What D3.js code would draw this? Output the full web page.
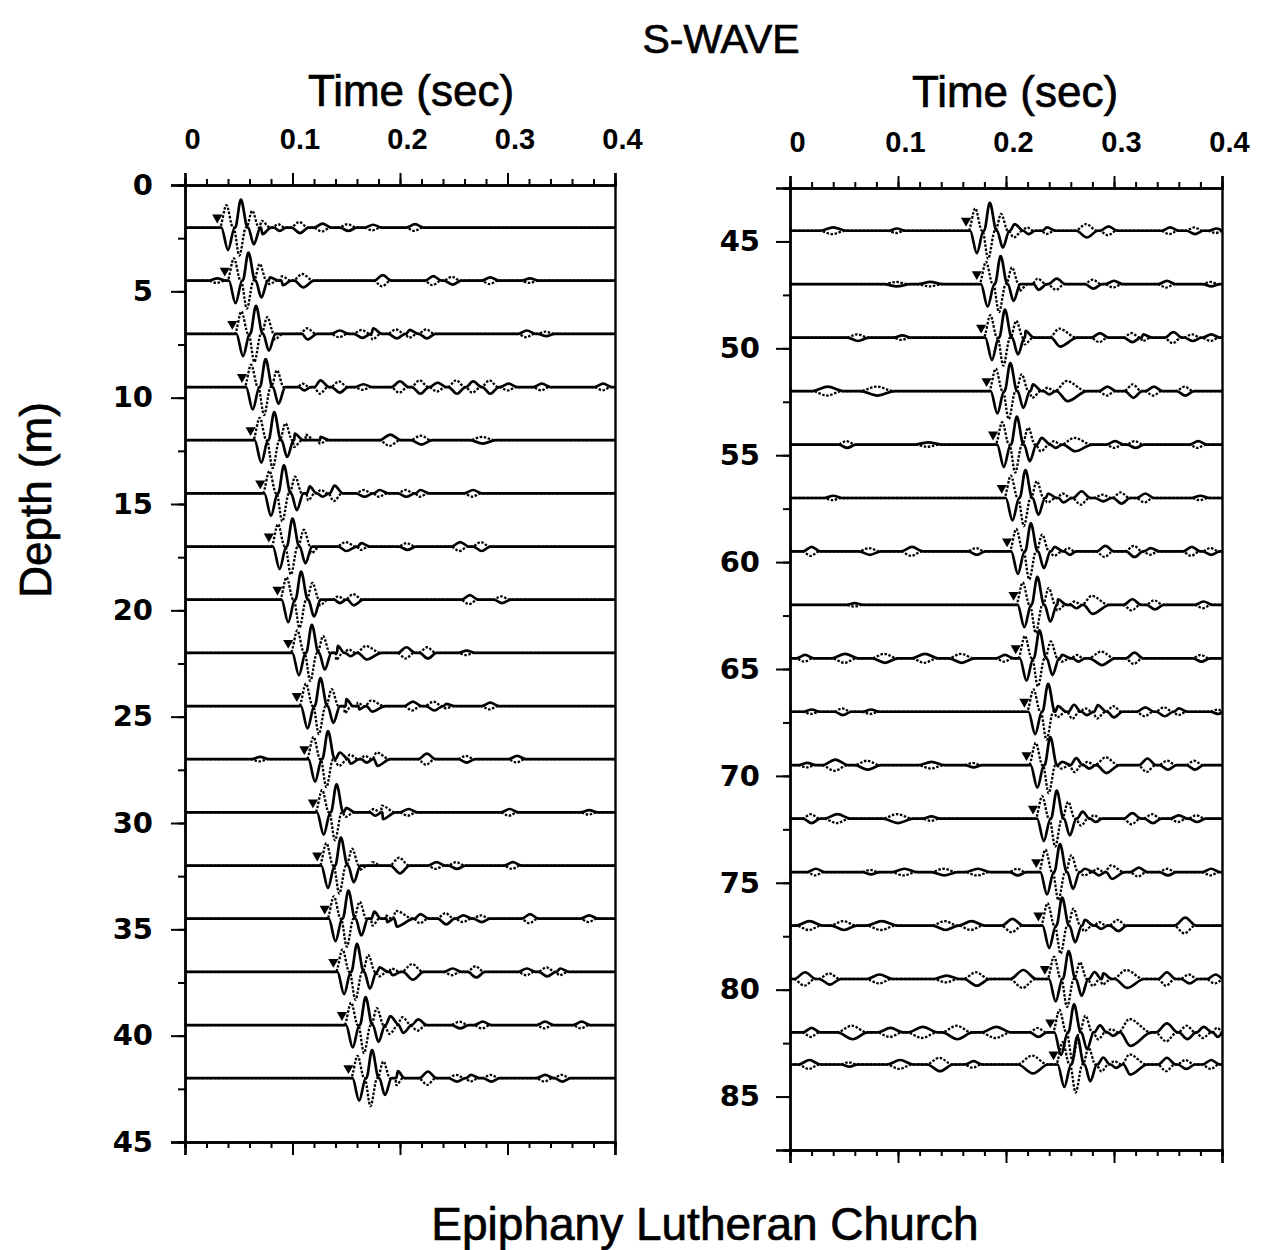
<!DOCTYPE html>
<html>
<head>
<meta charset="utf-8">
<title>S-Wave traces</title>
<script src="https://d3js.org/d3.v7.min.js"></script>
<style>
  body { margin: 0; background: #fff; }
  text { fill: #000; }
  .title { font-family: "Liberation Sans", Arial, sans-serif; stroke: #000; stroke-width: 0.7px; }
  .tlab { font-family: "Liberation Sans", Arial, sans-serif; font-weight: bold; font-size: 29px; }
  .dlab { font-family: "DejaVu Sans", sans-serif; font-weight: bold; font-size: 29px; }
</style>
</head>
<body>
<div id="chart"></div>
<script>
// receiver depths (m) and picked S arrival times (s), left panel
var leftDepths = [2, 4.5, 7, 9.5, 12, 14.5, 17, 19.5, 22, 24.5, 27, 29.5, 32, 34.5, 37, 39.5, 42];
var leftPicks = [0.030, 0.037, 0.044, 0.053, 0.061, 0.070, 0.078, 0.086, 0.096, 0.104, 0.111, 0.119, 0.123, 0.130, 0.138, 0.146, 0.152];

// right panel
var rightDepths = [44.5, 47, 49.5, 52, 54.5, 57, 59.5, 62, 64.5, 67, 69.5, 72, 74.5, 77, 79.5, 82, 83.5];
var rightPicks = [0.163, 0.173, 0.177, 0.182, 0.188, 0.196, 0.201, 0.207, 0.209, 0.217, 0.219, 0.225, 0.228, 0.230, 0.236, 0.241, 0.244];

// main shear wavelet, solid component: lobe delay after pick (s) and relative amplitude
var waveletDelay = [0.010, 0.022, 0.034, 0.046, 0.058];
var waveletAmp = [-0.8, 1.0, -0.6, 0.25, -0.12];

// smaller wiggles (noise before pick, coda after): [time s, amplitude, half width s]
var leftWiggles = [
  [[0.072, -0.24], [0.090, 0.22], [0.107, -0.2], [0.128, 0.14], [0.152, -0.12], [0.175, 0.1], [0.214, 0.12]],
  [[0.030, 0.08], [0.079, 0.12], [0.091, -0.16], [0.110, -0.24, 0.01], [0.184, 0.2], [0.231, 0.16], [0.249, -0.14], [0.284, 0.12], [0.321, 0.08]],
  [[0.084, 0.2], [0.094, -0.16], [0.114, -0.2, 0.009], [0.144, 0.12], [0.165, -0.14], [0.175, 0.2], [0.197, -0.16], [0.209, 0.14], [0.225, -0.16], [0.318, 0.12], [0.336, -0.08]],
  [[0.091, 0.16], [0.112, -0.16], [0.126, 0.24], [0.144, -0.2], [0.166, 0.1], [0.200, 0.2], [0.219, -0.24, 0.008], [0.235, 0.16], [0.253, -0.24, 0.008], [0.268, 0.2], [0.284, -0.24], [0.301, 0.12], [0.332, 0.12], [0.389, 0.12]],
  [[0.102, 0.24], [0.113, -0.2], [0.126, 0.12], [0.191, 0.2, 0.01], [0.220, -0.16, 0.01], [0.277, -0.12, 0.012]],
  [[0.105, 0.2], [0.139, 0.28, 0.008], [0.167, -0.12], [0.181, 0.12], [0.206, -0.12], [0.219, 0.12], [0.268, 0.12]],
  [[0.118, 0.24], [0.128, -0.2], [0.150, -0.16, 0.01], [0.164, 0.12], [0.207, -0.12], [0.256, 0.16], [0.276, -0.16]],
  [[0.126, 0.2], [0.157, -0.2, 0.009], [0.265, 0.16], [0.295, -0.12]],
  [[0.133, 0.16], [0.169, -0.24, 0.014], [0.206, 0.2], [0.226, -0.2], [0.262, 0.08]],
  [[0.141, 0.16], [0.153, -0.1], [0.174, -0.2, 0.012], [0.212, 0.16], [0.232, -0.16], [0.243, 0.08], [0.284, 0.12]],
  [[0.070, 0.08], [0.144, 0.24], [0.154, -0.16], [0.179, -0.24, 0.012], [0.225, 0.2], [0.262, -0.12], [0.309, 0.12]],
  [[0.150, 0.16], [0.157, -0.12], [0.184, -0.24, 0.012], [0.208, 0.12], [0.302, 0.12], [0.376, 0.08]],
  [[0.163, 0.16], [0.175, -0.12], [0.181, 0.16], [0.200, -0.28, 0.009], [0.234, 0.12], [0.253, -0.12], [0.305, 0.12]],
  [[0.165, 0.16], [0.179, 0.32], [0.197, -0.28, 0.016], [0.219, 0.16], [0.243, -0.2], [0.259, 0.12], [0.276, -0.12], [0.321, 0.16], [0.376, 0.12]],
  [[0.181, 0.16], [0.193, -0.12], [0.212, -0.28, 0.01], [0.249, 0.12], [0.271, -0.2], [0.318, 0.12], [0.337, -0.16], [0.349, 0.12]],
  [[0.191, 0.32], [0.203, -0.28], [0.217, 0.2], [0.256, -0.12], [0.277, 0.12], [0.335, 0.12], [0.369, 0.12]],
  [[0.188, 0.24], [0.203, -0.24], [0.226, 0.24, 0.008], [0.253, -0.12], [0.266, 0.12], [0.285, -0.12], [0.335, 0.12], [0.351, -0.12]]
];

var rightWiggles = [
  [[0.040, 0.12, 0.012], [0.099, 0.08], [0.208, 0.24], [0.225, -0.16], [0.238, 0.12], [0.275, -0.24, 0.01], [0.295, 0.16], [0.352, 0.12], [0.375, -0.12], [0.395, 0.08]],
  [[0.099, -0.08, 0.012], [0.130, 0.08, 0.012], [0.213, 0.24], [0.230, -0.2], [0.247, 0.2], [0.281, -0.16], [0.300, 0.12], [0.349, 0.12], [0.390, -0.08]],
  [[0.063, -0.12, 0.01], [0.104, 0.08], [0.218, 0.24], [0.228, -0.16], [0.250, -0.32, 0.016], [0.287, 0.16], [0.317, -0.16], [0.327, 0.12], [0.355, 0.2], [0.373, -0.12], [0.390, 0.12]],
  [[0.035, 0.16, 0.014], [0.081, -0.16, 0.016], [0.225, 0.24], [0.257, -0.36, 0.018], [0.294, 0.16], [0.318, -0.24], [0.337, 0.16], [0.366, -0.16]],
  [[0.053, -0.12], [0.128, 0.08, 0.012], [0.233, 0.24], [0.264, -0.24, 0.016], [0.301, 0.12], [0.320, -0.12], [0.378, 0.12]],
  [[0.040, 0.08], [0.239, 0.16], [0.253, -0.16], [0.270, 0.24], [0.290, -0.12], [0.307, -0.2], [0.329, 0.16], [0.380, 0.08]],
  [[0.020, 0.16], [0.074, -0.12, 0.01], [0.113, 0.16, 0.01], [0.173, -0.12], [0.245, 0.16], [0.262, -0.24], [0.292, 0.2], [0.319, -0.2], [0.334, 0.12], [0.372, 0.16], [0.390, -0.12]],
  [[0.060, 0.06], [0.248, 0.2], [0.280, -0.32, 0.016], [0.317, 0.2], [0.338, -0.16], [0.383, 0.12]],
  [[0.014, 0.12], [0.051, 0.16, 0.012], [0.088, -0.16, 0.012], [0.125, 0.16, 0.012], [0.159, -0.16, 0.012], [0.199, 0.12], [0.252, 0.12], [0.289, -0.24, 0.012], [0.319, 0.2], [0.381, -0.12]],
  [[0.020, 0.08], [0.049, -0.12], [0.075, 0.08], [0.248, 0.2], [0.285, 0.24], [0.300, -0.2], [0.329, 0.16], [0.347, -0.16], [0.360, 0.12], [0.397, -0.08]],
  [[0.016, 0.08], [0.042, 0.2, 0.012], [0.072, -0.16, 0.012], [0.131, 0.12, 0.012], [0.170, -0.08], [0.252, 0.12], [0.293, -0.28, 0.012], [0.331, 0.24], [0.350, -0.16], [0.375, -0.16]],
  [[0.020, -0.16], [0.044, 0.16, 0.012], [0.100, -0.16, 0.014], [0.131, 0.08], [0.285, -0.32, 0.016], [0.317, 0.2], [0.336, -0.16], [0.360, 0.12], [0.377, -0.12]],
  [[0.024, 0.12], [0.075, -0.08], [0.106, 0.12, 0.012], [0.143, -0.12, 0.012], [0.174, 0.12, 0.012], [0.211, -0.12], [0.273, 0.12], [0.298, -0.24, 0.012], [0.323, 0.16], [0.350, -0.12], [0.390, 0.12]],
  [[0.018, 0.16, 0.012], [0.050, -0.16, 0.012], [0.085, 0.16, 0.014], [0.144, -0.16, 0.012], [0.168, 0.16, 0.012], [0.206, 0.24, 0.01], [0.273, 0.2], [0.304, -0.2], [0.366, 0.28, 0.01]],
  [[0.014, 0.24, 0.01], [0.037, -0.2, 0.01], [0.083, 0.16, 0.012], [0.145, 0.12, 0.012], [0.173, -0.24, 0.012], [0.216, 0.32, 0.012], [0.290, 0.2], [0.312, -0.32, 0.016], [0.349, 0.24], [0.370, -0.16], [0.394, 0.16]],
  [[0.020, 0.16], [0.058, -0.24, 0.014], [0.093, 0.16, 0.012], [0.123, 0.2, 0.014], [0.155, -0.24, 0.014], [0.191, 0.2, 0.014], [0.230, -0.16], [0.315, -0.48, 0.02], [0.349, 0.32, 0.01], [0.368, -0.24], [0.383, 0.2], [0.396, -0.16]],
  [[0.018, 0.16, 0.01], [0.055, -0.08], [0.102, 0.16, 0.012], [0.139, -0.24, 0.012], [0.170, 0.12], [0.225, -0.32, 0.014], [0.315, -0.36, 0.016], [0.349, 0.24], [0.367, -0.16], [0.390, 0.16]]
];

var timeTicks = [0, 0.1, 0.2, 0.3, 0.4];
var leftDepthTicks = [0, 5, 10, 15, 20, 25, 30, 35, 40, 45];
var rightDepthTicks = [45, 50, 55, 60, 65, 70, 75, 80, 85];

var W = 1265, H = 1250;
var svg = d3.select("#chart").append("svg")
  .attr("width", W).attr("height", H);

// amplitude -> pixel offset
var amp = d3.scaleLinear().domain([0, 1]).range([0, 28]);

function traceLobes(pick, wiggles, sign, shift) {
  var lobes = [];
  waveletDelay.forEach(function (d, i) {
    lobes.push([pick + d + shift, sign * waveletAmp[i], 0.0062]);
  });
  wiggles.forEach(function (w) {
    lobes.push([w[0] + shift * 0.5, sign * w[1], w[2] || 0.008]);
  });
  lobes.sort(function (a, b) { return a[0] - b[0]; });
  var pts = [[0, 0]];
  lobes.forEach(function (l) {
    var last = pts[pts.length - 1][0];
    var a = Math.max(l[0] - l[2], last + 0.0005);
    if (a < l[0]) pts.push([a, 0]);
    pts.push([l[0], l[1]]);
    pts.push([l[0] + l[2], 0]);
  });
  pts = pts.filter(function (p, i) { return i === 0 || p[0] > pts[i - 1][0]; });
  pts.push([0.4, 0]);
  return pts.filter(function (p) { return p[0] >= 0 && p[0] <= 0.4; });
}

function panel(depths, picks, wiggles, xRange, yDomain, yRange, depthTicks, labelOffset) {
  var x = d3.scaleLinear().domain([0, 0.4]).range(xRange);
  var y = d3.scaleLinear().domain(yDomain).range(yRange);
  var g = svg.append("g");

  var minorT = d3.range(0, 0.4001, 0.02);
  var minorD = d3.range(yDomain[0], yDomain[1] + 0.01, 2.5);

  // top axis
  g.append("g").attr("transform", "translate(0," + yRange[0] + ")")
    .call(d3.axisTop(x).tickValues(minorT).tickSize(6).tickFormat(""));
  var top = g.append("g").attr("transform", "translate(0," + yRange[0] + ")")
    .call(d3.axisTop(x).tickValues(timeTicks).tickSize(12).tickPadding(24)
      .tickFormat(function (d) { return d === 0 ? "0" : d3.format(".1f")(d); }));
  top.selectAll("text").attr("class", "tlab").attr("dx", 7);

  // bottom axis
  g.append("g").attr("transform", "translate(0," + yRange[1] + ")")
    .call(d3.axisBottom(x).tickValues(minorT).tickSize(6).tickFormat(""));
  g.append("g").attr("transform", "translate(0," + yRange[1] + ")")
    .call(d3.axisBottom(x).tickValues(timeTicks).tickSize(13).tickFormat(""));

  // left depth axis
  g.append("g").attr("transform", "translate(" + xRange[0] + ",0)")
    .call(d3.axisLeft(y).tickValues(minorD).tickSize(7).tickFormat(""));
  var left = g.append("g").attr("transform", "translate(" + xRange[0] + ",0)")
    .call(d3.axisLeft(y).tickValues(depthTicks).tickSize(14).tickPadding(labelOffset));
  left.selectAll("text").attr("class", "dlab");

  // right frame
  g.append("g").attr("transform", "translate(" + xRange[1] + ",0)")
    .call(d3.axisRight(y).tickValues([]).tickSizeOuter(0));

  g.selectAll(".domain").attr("stroke-width", 2.4);
  g.selectAll(".tick line").attr("stroke-width", 2);

  var line = d3.line()
    .x(function (p) { return x(p[0]); })
    .curve(d3.curveMonotoneX);

  depths.forEach(function (dep, i) {
    var y0 = y(dep);
    line.y(function (p) { return y0 - amp(p[1]); });
    g.append("path")
      .attr("d", line(traceLobes(picks[i], wiggles[i], -1, -0.0015)))
      .attr("fill", "none").attr("stroke", "#000")
      .attr("stroke-width", 2.3).attr("stroke-dasharray", "2.5,1.6");
    g.append("path")
      .attr("d", line(traceLobes(picks[i], wiggles[i], 1, 0)))
      .attr("fill", "none").attr("stroke", "#000").attr("stroke-width", 2.7);
    g.append("path")
      .attr("d", d3.symbol(d3.symbolTriangle, 45)())
      .attr("transform", "translate(" + x(picks[i]) + "," + (y0 - 10) + ") rotate(180)")
      .attr("fill", "#000");
  });
}

panel(leftDepths, leftPicks, leftWiggles, [185, 615], [0, 45], [185, 1142], leftDepthTicks, 18);
panel(rightDepths, rightPicks, rightWiggles, [790, 1222], [42.5, 87.5], [188, 1150], rightDepthTicks, 16);

svg.selectAll(".tick text").attr("fill", "#000");

// titles
svg.append("text").attr("class", "title").attr("x", 721).attr("y", 53)
  .attr("text-anchor", "middle").attr("font-size", 41).text("S-WAVE");
svg.append("text").attr("class", "title").attr("x", 411).attr("y", 106)
  .attr("text-anchor", "middle").attr("font-size", 44).text("Time (sec)");
svg.append("text").attr("class", "title").attr("x", 1015).attr("y", 107)
  .attr("text-anchor", "middle").attr("font-size", 44).text("Time (sec)");
svg.append("text").attr("class", "title")
  .attr("transform", "translate(51,500) rotate(-90)")
  .attr("text-anchor", "middle").attr("font-size", 44).text("Depth (m)");
svg.append("text").attr("class", "title").attr("x", 705).attr("y", 1240)
  .attr("text-anchor", "middle").attr("font-size", 46).text("Epiphany Lutheran Church");
</script>
</body>
</html>
